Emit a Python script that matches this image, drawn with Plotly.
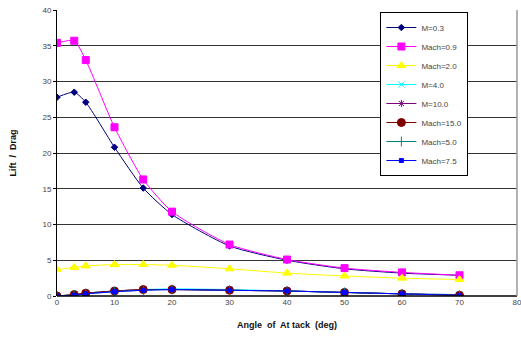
import plotly.graph_objects as go

angles = [0, 3, 5, 10, 15, 20, 30, 40, 50, 60, 70]
m03 = [27.8, 28.5, 27.1, 20.8, 15.1, 11.4, 7.0, 5.0, 3.8, 3.2, 2.9]
m09 = [35.4, 35.7, 33.0, 23.6, 16.3, 11.8, 7.2, 5.1, 3.9, 3.3, 2.9]
m20 = [3.7, 4.0, 4.2, 4.4, 4.4, 4.3, 3.8, 3.2, 2.8, 2.5, 2.3]
m40 = [0.0, 0.2, 0.4, 0.7, 0.9, 1.0, 0.9, 0.7, 0.5, 0.3, 0.2]
m100 = [0.0, 0.2, 0.4, 0.7, 0.9, 0.9, 0.8, 0.7, 0.5, 0.3, 0.2]
m150 = [0.0, 0.2, 0.4, 0.7, 0.9, 0.9, 0.8, 0.7, 0.5, 0.3, 0.1]
m50 = [0.0, 0.1, 0.3, 0.6, 0.8, 0.9, 0.8, 0.7, 0.5, 0.3, 0.1]
m75 = [0.0, 0.1, 0.3, 0.6, 0.8, 0.9, 0.8, 0.7, 0.5, 0.3, 0.1]

series = [
    ("M=0.3", m03, "#000080", "diamond", 5),
    ("Mach=0.9", m09, "#FF00FF", "square", 7),
    ("Mach=2.0", m20, "#FFFF00", "triangle-up", 8),
    ("M=4.0", m40, "#00FFFF", "x-thin-open", 6),
    ("M=10.0", m100, "#800080", "asterisk-open", 6),
    ("Mach=15.0", m150, "#800000", "circle", 8),
    ("Mach=5.0", m50, "#008080", "line-ns-open", 7),
    ("Mach=7.5", m75, "#0000FF", "square", 4),
]

fig = go.Figure()
for name, ys, col, sym, sz in series:
    fig.add_trace(go.Scatter(
        x=angles, y=ys, name=name, mode="lines+markers",
        line=dict(color=col, width=1, shape="spline", smoothing=0.6),
        marker=dict(symbol=sym, size=sz, color=col, line=dict(color=col, width=1)),
    ))

fig.update_layout(
    width=521, height=337,
    margin=dict(l=57, r=4, t=10, b=41, autoexpand=False),
    paper_bgcolor="white", plot_bgcolor="white",
    font=dict(family="Arial, Liberation Sans", size=8, color="#333"),
    showlegend=True,
    legend=dict(x=0.703, y=0.993, xanchor="left", yanchor="top",
                bgcolor="white", bordercolor="black", borderwidth=1,
                font=dict(size=8, color="#444"), tracegroupgap=0,
                entrywidth=122, entrywidthmode="pixels"),
    xaxis=dict(range=[0, 80], tickvals=[0, 10, 20, 30, 40, 50, 60, 70, 80],
               showgrid=False, zeroline=False, showline=False, automargin=False,
               ticks="", tickfont=dict(size=8, color="#444"), ticklabeloverflow="allow",
               title=dict(text="<b>Angle  of  At tack  (deg)</b>", font=dict(size=9, color="#111"), standoff=15)),
    yaxis=dict(range=[0, 40], tickvals=[0, 5, 10, 15, 20, 25, 30, 35, 40],
               showgrid=True, gridcolor="#333", gridwidth=1, zeroline=False,
               showline=True, linecolor="black", linewidth=1, automargin=False,
               ticks="outside", ticklen=3, tickcolor="black",
               tickfont=dict(size=8, color="#444"),
               title=dict(text="<b>Lift  /  Drag</b>", font=dict(size=9, color="#111"), standoff=24)),
)
fig.add_shape(type="line", xref="paper", yref="paper", x0=0, x1=1, y0=0, y1=0,
              line=dict(color="black", width=1.5))
fig.add_shape(type="line", xref="paper", yref="paper", x0=1, x1=1, y0=0, y1=1,
              line=dict(color="#999", width=1.5))

fig.write_html("out.html", config={"displayModeBar": False})
with open("out.html", encoding="utf-8") as f:
    html = f.read()
html = html.replace("<body>", '<body style="margin:0;padding:0;overflow:hidden">', 1)
with open("out.html", "w", encoding="utf-8") as f:
    f.write(html)
